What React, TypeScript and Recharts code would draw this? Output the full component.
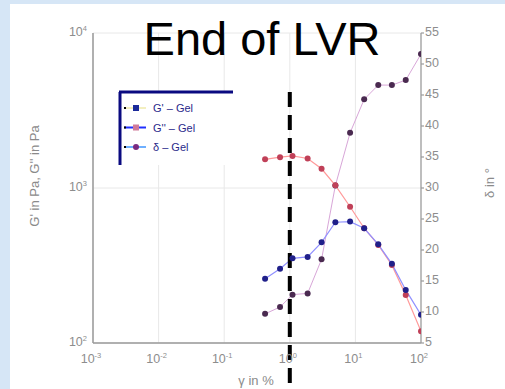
import React from "react";
import {
  ComposedChart,
  Line,
  XAxis,
  YAxis,
  CartesianGrid,
  ReferenceLine,
  Customized,
} from "recharts";

// Strain amplitude (%) of each measuring point
const strain = [0.42, 0.71, 1.1, 1.87, 3.05, 4.95, 8.3, 13.6, 22.3, 36, 58.5, 100];
// Storage modulus G' (Pa)
const storageModulus = [1530, 1580, 1610, 1550, 1330, 1040, 757, 550, 429, 318, 204, 119];
// Loss modulus G'' (Pa)
const lossModulus = [260, 301, 352, 359, 446, 601, 607, 550, 433, 324, 220, 152];
// Phase angle δ (°)
const phaseAngle = [9.7, 10.8, 12.8, 13.0, 18.5, 30.4, 38.9, 44.3, 46.6, 46.6, 47.4, 51.6];

const strainTicks = [0.001, 0.01, 0.1, 1, 10, 100];
const modulusTicks = [100, 1000, 10000];
const angleTicks = [5, 10, 15, 20, 25, 30, 35, 40, 45, 50, 55];

// Limit of the linear viscoelastic region
const lvrEnd = 1;
const lvrSpan = [4160, 50.5];

const legendItems = [
  { label: "G' – Gel", line: "#f3efc0", marker: "#1b2a9a", square: true },
  { label: "G'' – Gel", line: "#2030ff", marker: "#d07a9a", square: true },
  { label: "δ – Gel", line: "#6fb0ff", marker: "#7a2a80", square: false },
];

const data = strain.map((s, i) => ({
  strain: s,
  gp: storageModulus[i],
  gpp: lossModulus[i],
  delta: phaseAngle[i],
}));

const tickColor = "#8d8d8d";
const axisColor = "#9a9a9a";

const XTick = (props: any) => {
  const { x, y, payload } = props;
  const e = Math.round(Math.log10(payload.value));
  return (
    <text x={x - 2} y={y + 12} textAnchor="middle" fill={tickColor} fontSize={12.5} fontFamily="Liberation Sans, Arial, sans-serif">
      <tspan>10</tspan>
      <tspan dy={-5} fontSize={7.5}>{String(e)}</tspan>
    </text>
  );
};

const LeftTick = (props: any) => {
  const { x, y, payload } = props;
  const e = Math.round(Math.log10(payload.value));
  return (
    <text x={x + 2} y={y + 3} textAnchor="end" fill={tickColor} fontSize={12.5} fontFamily="Liberation Sans, Arial, sans-serif">
      <tspan>10</tspan>
      <tspan dy={-5} fontSize={7.5}>{String(e)}</tspan>
    </text>
  );
};

const RightTick = (props: any) => {
  const { x, y, payload } = props;
  return (
    <text x={x - 1} y={y + 3} textAnchor="start" fill={tickColor} fontSize={12.5} fontFamily="Liberation Sans, Arial, sans-serif">
      {payload.value}
    </text>
  );
};

const Decorations = () => (
  <g fontFamily="Liberation Sans, Arial, sans-serif">
    <text x={262} y={55} textAnchor="middle" fontSize={47} fill="#000">
      End of LVR
    </text>
    <text
      x={39}
      y={176}
      transform="rotate(-90 39 176)"
      textAnchor="middle"
      fontSize={13}
      fill="#8a8a8a"
    >
      G' in Pa, G'' in Pa
    </text>
    <text
      x={494}
      y={183}
      transform="rotate(-90 494 183)"
      textAnchor="middle"
      fontSize={13}
      fill="#8a8a8a"
    >
      δ in °
    </text>
    <text x={256} y={385} textAnchor="middle" fontSize={13} fill="#8a8a8a">
      γ in %
    </text>
    <g>
      <rect x={119} y={92} width={114} height={73} fill="#fff" />
      <line x1={119} y1={92} x2={233} y2={92} stroke="#0a0a80" strokeWidth={3} />
      <line x1={120} y1={92} x2={120} y2={165} stroke="#0a0a80" strokeWidth={3} />
      {legendItems.map((it, i) => {
        const cy = 108 + i * 19.5;
        return (
          <g key={it.label}>
            <line x1={124} y1={cy} x2={146} y2={cy} stroke={it.line} strokeWidth={2} />
            <rect x={124} y={cy - 1} width={2} height={2} fill="#000" />
            {it.square ? (
              <rect x={133} y={cy - 3} width={6} height={6} fill={it.marker} />
            ) : (
              <circle cx={136} cy={cy} r={3} fill={it.marker} />
            )}
            <text x={153} y={cy + 4} fontSize={11} fill="#2a2a8a">
              {it.label}
            </text>
          </g>
        );
      })}
    </g>
  </g>
);

export default function App() {
  return (
    <div
      style={{
        position: "absolute",
        left: 0,
        top: 0,
        width: 505,
        height: 389,
        background: "#d6e6f6",
        overflow: "hidden",
      }}
    >
      <div
        style={{
          position: "absolute",
          left: 10,
          top: 4,
          right: 0,
          bottom: 0,
          background: "#ffffff",
        }}
      />
      <div style={{ position: "absolute", left: 0, top: 0 }}>
        <ComposedChart
          width={505}
          height={389}
          data={data}
          margin={{ top: 33, right: 44, bottom: 16, left: 33 }}
        >
          <CartesianGrid yAxisId="left" stroke="#e8e8e8" strokeWidth={1} />
          <XAxis
            dataKey="strain"
            type="number"
            scale="log"
            domain={[0.001, 100]}
            ticks={strainTicks}
            allowDataOverflow
            height={30}
            stroke={axisColor}
            strokeWidth={1.5}
            tickLine={false}
            tick={<XTick />}
            interval={0}
          />
          <YAxis
            yAxisId="left"
            type="number"
            scale="log"
            domain={[100, 10000]}
            ticks={modulusTicks}
            allowDataOverflow
            width={60}
            stroke={axisColor}
            strokeWidth={1.5}
            tickLine={false}
            tick={<LeftTick />}
            interval={0}
          />
          <YAxis
            yAxisId="right"
            orientation="right"
            type="number"
            domain={[5, 55]}
            ticks={angleTicks}
            width={40}
            stroke={axisColor}
            strokeWidth={1.2}
            tickSize={3}
            tick={<RightTick />}
            interval={0}
          />
          <Line
            yAxisId="right"
            dataKey="delta"
            type="linear"
            stroke="#d8a6d8"
            strokeWidth={1}
            dot={{ r: 3, fill: "#4a2a50", stroke: "none" }}
            isAnimationActive={false}
          />
          <Line
            yAxisId="left"
            dataKey="gp"
            type="linear"
            stroke="#ff9a9a"
            strokeWidth={1.2}
            dot={{ r: 3, fill: "#c04058", stroke: "none" }}
            isAnimationActive={false}
          />
          <Line
            yAxisId="left"
            dataKey="gpp"
            type="linear"
            stroke="#9090ff"
            strokeWidth={1.2}
            dot={{ r: 3, fill: "#20208a", stroke: "none" }}
            isAnimationActive={false}
          />
          <ReferenceLine
            yAxisId="left"
            ifOverflow="visible"
            segment={[
              { x: lvrEnd, y: lvrSpan[0] },
              { x: lvrEnd, y: lvrSpan[1] },
            ]}
            stroke="#000"
            strokeWidth={4}
            strokeDasharray="15 8"
          />
          <Customized component={Decorations} />
        </ComposedChart>
      </div>
    </div>
  );
}
